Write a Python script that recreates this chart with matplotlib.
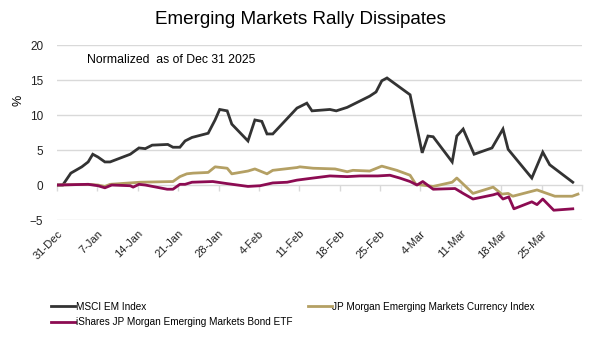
import matplotlib
matplotlib.use("Agg")
import matplotlib.pyplot as plt
import numpy as np

plt.rcParams['font.family'] = ['Liberation Sans', 'DejaVu Sans']

# days after 31-Dec and % change
msci_days = [0, 1, 2.4, 4.3, 5.4, 6.2, 7.1, 8.3, 9.2, 12.7, 14.2, 15.3, 16.5, 19.2, 20.1,
             21.3, 22.2, 23.4, 26.2, 27.4, 28.2, 29.5, 30.3, 33.1, 34.3, 35.5, 36.4, 37.4,
             41.6, 42.1, 43.3, 44.2, 47.3, 48.4, 50.3, 52.5, 54.2, 55.3, 56.3, 57.2, 61.2,
             63.3, 64.3, 65.2, 68.5, 69.3, 70.4, 72.3, 75.4, 77.3, 78.2, 82.3, 84.2, 85.4, 89.4]
msci_vals = [0, 0, 1.7, 2.6, 3.3, 4.4, 4.0, 3.3, 3.3, 4.4, 5.3, 5.2, 5.7, 5.8, 5.4,
             5.4, 6.3, 6.8, 7.4, 9.3, 10.8, 10.6, 8.7, 6.3, 9.3, 9.1, 7.3, 7.3,
             11.0, 11.2, 11.7, 10.6, 10.8, 10.6, 11.1, 12.0, 12.7, 13.3, 14.9, 15.3, 12.9,
             4.6, 7.0, 6.9, 3.3, 7.0, 8.0, 4.4, 5.3, 8.0, 5.1, 1.0, 4.7, 2.9, 0.4]

fx_days = [0, 5.4, 7.1, 8.3, 9.2, 14.4, 20.1, 21.3, 22.5, 23.6, 26.2, 27.4, 29.5, 30.3,
           33.1, 34.3, 36.4, 37.4, 41.6, 42.1, 44.4, 48.2, 50.3, 51.3, 54.2, 56.3, 58.9,
           61.2, 62.2, 65.2, 68.5, 69.3, 72.1, 75.6, 77.1, 78.2, 79.0, 83.2, 86.3, 89.3, 90.3]
fx_vals = [0, 0.1, 0, -0.2, 0.1, 0.4, 0.5, 1.2, 1.6, 1.7, 1.8, 2.6, 2.4, 1.6,
           2.0, 2.3, 1.6, 2.1, 2.5, 2.6, 2.4, 2.3, 1.9, 2.1, 2.0, 2.7, 2.1,
           1.4, 0.1, -0.2, 0.4, 1.0, -1.2, -0.3, -1.3, -1.2, -1.6, -0.7, -1.6, -1.6, -1.3]

bond_days = [0, 5.4, 7.1, 8.3, 9.5, 12.7, 13.2, 14.2, 15.3, 19.1, 20.1, 21.3, 22.2, 23.4,
             27.0, 29.5, 33.1, 35.2, 37.4, 39.9, 41.6, 44.4, 47.3, 50.3, 52.5, 55.6, 57.7,
             59.4, 61.2, 62.4, 63.4, 65.2, 69.0, 70.4, 72.1, 75.6, 76.4, 77.3, 78.3, 79.2,
             82.3, 83.2, 84.2, 86.1, 89.4]
bond_vals = [0, 0.1, -0.1, -0.4, 0, -0.1, -0.3, 0.1, 0, -0.6, -0.6, 0.1, 0.1, 0.4,
             0.5, 0.2, -0.2, -0.1, 0.3, 0.4, 0.7, 1.0, 1.3, 1.2, 1.3, 1.3, 1.4,
             1.0, 0.5, 0, 0.5, -0.6, -0.5, -1.2, -2.0, -1.4, -1.2, -2.0, -1.7, -3.4,
             -2.4, -2.8, -2.0, -3.6, -3.4]

tick_labels = ['31-Dec', '7-Jan', '14-Jan', '21-Jan', '28-Jan', '4-Feb', '11-Feb',
               '18-Feb', '25-Feb', '4-Mar', '11-Mar', '18-Mar', '25-Mar']

fig = plt.figure(figsize=(6, 3.39), dpi=100)
ax = fig.add_axes([0.095, 0.351, 0.875, 0.516])

grid_c = '#d9d9d9'
for v in [-5, 5, 10, 15, 20]:
    ax.axhline(v, color=grid_c, lw=1, zorder=0)

l1, = ax.plot(msci_days, msci_vals, color='#333333', lw=2, label='MSCI EM Index',
              solid_joinstyle='miter')
l2, = ax.plot(fx_days, fx_vals, color='#b4a064', lw=2,
              label='JP Morgan Emerging Markets Currency Index')
l3, = ax.plot(bond_days, bond_vals, color='#8c0b52', lw=2,
              label='iShares JP Morgan Emerging Markets Bond ETF')

ax.set_xlim(0, 91)
ax.set_ylim(-5, 20)
ax.set_yticks([-5, 0, 5, 10, 15, 20])
ax.tick_params(axis='y', length=0, labelsize=8.5, pad=10, colors='#222222')
ax.set_ylabel('%', fontsize=9)
ax.yaxis.set_label_coords(-0.062, 0.686)

xt = np.arange(len(tick_labels)) * 7
ax.set_xticks(xt)
ax.set_xticklabels(tick_labels, rotation=45, ha='right', rotation_mode='anchor',
                   fontsize=8)
ax.tick_params(axis='x', length=0, pad=6, colors='#222222')
for s in ax.spines.values():
    s.set_visible(False)

# category axis crossing at zero with tick marks
zero_ax = ax.secondary_xaxis(0.2)
zero_ax.set_xticks(list(xt) + [91])
zero_ax.set_xticklabels([])
zero_ax.tick_params(length=4, color=grid_c, width=1)
zero_ax.spines['bottom'].set_color(grid_c)
zero_ax.spines['bottom'].set_linewidth(1)

fig.text(0.5, 0.942, 'Emerging Markets Rally Dissipates', ha='center', va='center',
         fontsize=13.6)
ax.text(0.058, 0.915, 'Normalized  as of Dec 31 2025', transform=ax.transAxes,
        fontsize=8.8, va='center')

fig.legend(handles=[l1, l3, l2], ncol=2, loc='upper left',
           bbox_to_anchor=(0.085, 0.11), frameon=False, fontsize=7.2,
           handlelength=2.4, handletextpad=0.1, columnspacing=1.5,
           labelspacing=0.55, borderpad=0, borderaxespad=0)

fig.savefig('out.png', dpi=100)
